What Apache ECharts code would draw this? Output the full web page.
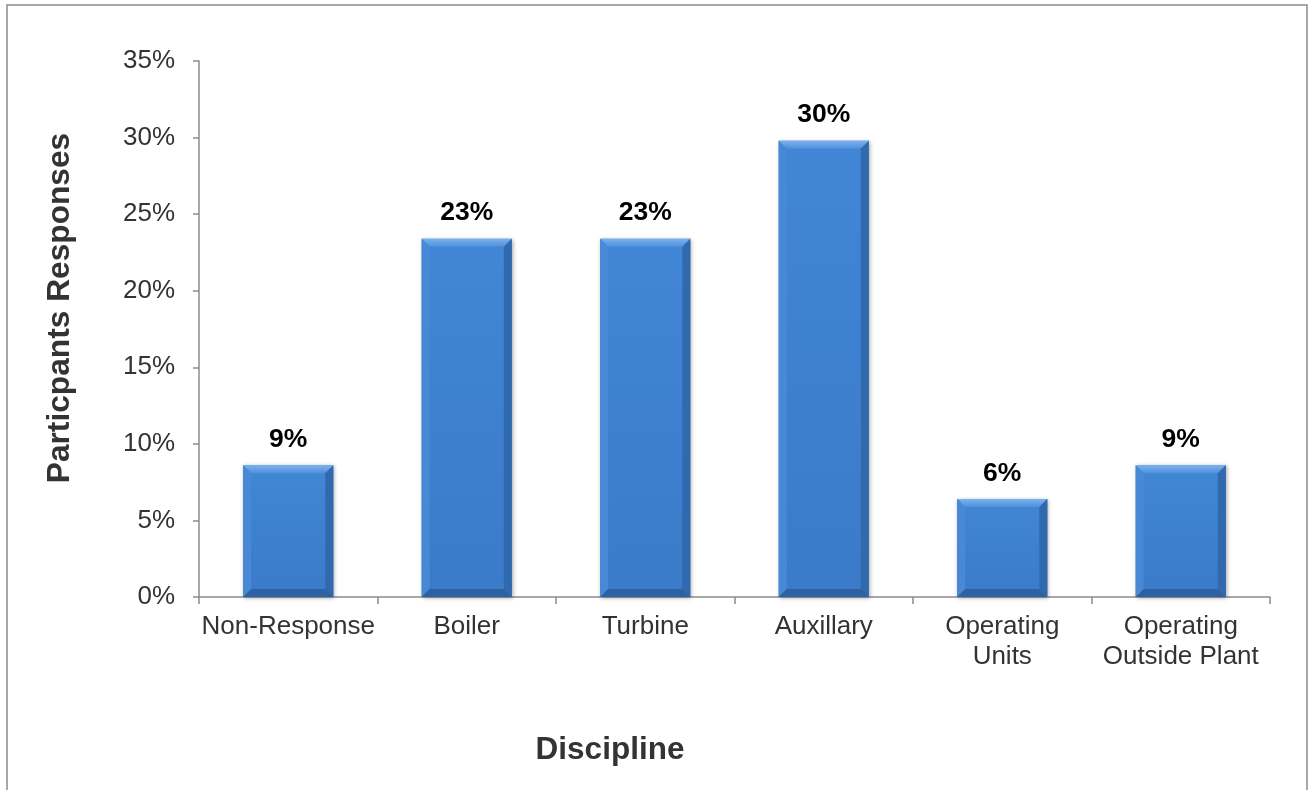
<!DOCTYPE html>
<html>
<head>
<meta charset="utf-8">
<script src="https://cdn.jsdelivr.net/npm/echarts@6/dist/echarts.min.js"></script>
<style>
html,body{margin:0;padding:0;background:#fff;}
#main{width:1309px;height:790px;}
</style>
</head>
<body>
<div id="main"></div>
<script>
const categories = ['Non-Response', 'Boiler', 'Turbine', 'Auxillary', 'Operating\nUnits', 'Operating\nOutside Plant'];
const values = [8.6, 23.4, 23.4, 29.8, 6.4, 8.6];
const yTicks = [0, 5, 10, 15, 20, 25, 30, 35];

const chart = echarts.init(document.getElementById('main'), null, {renderer: 'canvas'});
const FONT = '"Liberation Sans", Arial, sans-serif';

function renderBar(params, api) {
  const idx = api.value(0);
  const v = api.value(1);
  const top = api.coord([idx, v]);
  const base = api.coord([idx, 0]);
  const w = api.size([1, 0])[0] * 0.505;
  const x0 = top[0] - w / 2, x1 = top[0] + w / 2;
  const y0 = top[1], y1 = base[1];
  const b = 8;
  return {
    type: 'group',
    children: [
      {type: 'rect', shape: {x: x0, y: y0, width: w, height: y1 - y0},
       style: {fill: new echarts.graphic.LinearGradient(0, 0, 0, 1, [
         {offset: 0, color: '#4286d6'}, {offset: 1, color: '#3a7ac9'}]),
         shadowBlur: 4, shadowColor: 'rgba(0,0,0,0.35)', shadowOffsetX: 1, shadowOffsetY: 1}},
      {type: 'polygon', shape: {points: [[x0, y0], [x1, y0], [x1 - b, y0 + b], [x0 + b, y0 + b]]},
       style: {fill: new echarts.graphic.LinearGradient(0, 0, 0, 1, [
         {offset: 0, color: '#7db2ee'}, {offset: 1, color: '#4f90dc'}])}},
      {type: 'polygon', shape: {points: [[x0, y0], [x0 + b, y0 + b], [x0 + b, y1 - b], [x0, y1]]},
       style: {fill: '#4889d7'}},
      {type: 'polygon', shape: {points: [[x1, y0], [x1, y1], [x1 - b, y1 - b], [x1 - b, y0 + b]]},
       style: {fill: '#3069ae'}},
      {type: 'polygon', shape: {points: [[x0, y1], [x1, y1], [x1 - b, y1 - b], [x0 + b, y1 - b]]},
       style: {fill: '#2d61a2'}},
      {type: 'text', x: top[0], y: y0 - 12,
       style: {text: Math.round(v) + '%', align: 'center', verticalAlign: 'bottom',
         font: 'bold 26.5px ' + FONT, fill: '#000'}}
    ]
  };
}

chart.setOption({
  animation: false,
  backgroundColor: '#fff',
  grid: {left: 199, right: 39, top: 61, bottom: 193, containLabel: false},
  title: {
    text: 'Discipline', left: 605, top: 729, textAlign: 'center',
    textStyle: {fontFamily: FONT, fontWeight: 'bold', fontSize: 31.5, color: '#333'}
  },
  graphic: [
    {type: 'rect', shape: {x: 7, y: 5, width: 1300, height: 900},
     style: {fill: 'none', stroke: '#8c8c8c', lineWidth: 1.5}, silent: true},
    {type: 'text', x: 60, y: 308, rotation: Math.PI / 2,
     style: {text: 'Particpants Responses', align: 'center', verticalAlign: 'middle',
       font: 'bold 31.7px ' + FONT, fill: '#333'}}
  ],
  xAxis: {
    type: 'category',
    data: categories,
    axisLine: {lineStyle: {color: '#8c8c8c', width: 1.5}},
    axisTick: {show: true, length: 7, alignWithLabel: false, lineStyle: {color: '#8c8c8c', width: 1.5}},
    axisLabel: {fontFamily: FONT, fontSize: 26, color: '#333', lineHeight: 30, margin: 15, interval: 0},
    splitLine: {show: false}
  },
  yAxis: {
    type: 'value',
    min: 0, max: 35, interval: 5,
    axisLine: {show: true, lineStyle: {color: '#8c8c8c', width: 1.5}},
    axisTick: {show: true, length: 6, lineStyle: {color: '#8c8c8c', width: 1.5}},
    axisLabel: {fontFamily: FONT, fontSize: 26, color: '#333', margin: 24,
      formatter: function (v) { return yTicks.indexOf(v) >= 0 ? v + '%' : ''; }},
    splitLine: {show: false}
  },
  series: [{
    type: 'custom',
    renderItem: renderBar,
    data: values.map(function (v, i) { return [i, v]; }),
    encode: {x: 0, y: 1},
    clip: false
  }]
});
</script>
</body>
</html>
